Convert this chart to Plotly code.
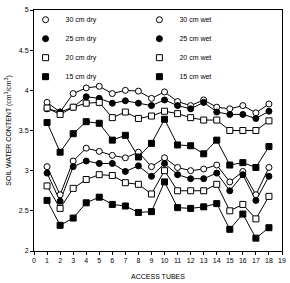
import plotly.graph_objects as go

tubes = list(range(1, 19))

wet30 = [3.85, 3.73, 3.96, 4.03, 4.05, 3.96, 4.00, 3.99, 3.90, 3.98, 3.86, 3.81, 3.88, 3.79, 3.77, 3.81, 3.72, 3.83]
wet25 = [3.77, 3.73, 3.79, 3.92, 3.90, 3.84, 3.87, 3.84, 3.81, 3.88, 3.81, 3.77, 3.85, 3.73, 3.70, 3.70, 3.65, 3.74]
wet20 = [3.78, 3.70, 3.79, 3.84, 3.85, 3.66, 3.73, 3.65, 3.68, 3.74, 3.71, 3.66, 3.63, 3.63, 3.50, 3.50, 3.50, 3.62]
wet15 = [3.60, 3.23, 3.46, 3.61, 3.59, 3.38, 3.44, 3.17, 3.34, 3.64, 3.32, 3.31, 3.21, 3.38, 3.07, 3.10, 3.04, 3.30]

dry30 = [3.05, 2.70, 3.12, 3.28, 3.24, 3.19, 3.16, 3.23, 3.05, 3.16, 3.04, 3.00, 3.02, 3.07, 2.86, 2.99, 2.70, 3.04]
dry25 = [2.97, 2.62, 3.05, 3.12, 3.09, 3.09, 2.99, 3.06, 2.93, 3.09, 2.95, 2.90, 2.90, 2.97, 2.75, 2.95, 2.63, 2.93]
dry20 = [2.81, 2.53, 2.78, 2.89, 2.95, 2.94, 2.85, 2.83, 2.71, 3.00, 2.75, 2.75, 2.75, 2.83, 2.50, 2.58, 2.40, 2.68]
dry15 = [2.63, 2.32, 2.41, 2.60, 2.67, 2.58, 2.56, 2.48, 2.49, 2.86, 2.54, 2.53, 2.55, 2.59, 2.27, 2.46, 2.16, 2.29]

x_ticks = list(range(0, 20))
y_ticks = [2, 2.5, 3, 3.5, 4, 4.5, 5]
y_labels = ["2", "2.5", "3", "3.5", "4", "4.5", "5"]

series = [
    ("30 cm dry", dry30, "circle", "white", "legend"),
    ("25 cm dry", dry25, "circle", "black", "legend"),
    ("20 cm dry", dry20, "square", "white", "legend"),
    ("15 cm dry", dry15, "square", "black", "legend"),
    ("30 cm wet", wet30, "circle", "white", "legend2"),
    ("25 cm wet", wet25, "circle", "black", "legend2"),
    ("20 cm wet", wet20, "square", "white", "legend2"),
    ("15 cm wet", wet15, "square", "black", "legend2"),
]

fig = go.Figure()
for name, vals, sym, fill, lg in series:
    fig.add_trace(go.Scatter(
        x=tubes, y=vals, mode="lines", showlegend=False,
        line=dict(color="black", width=1), hoverinfo="skip"))
for name, vals, sym, fill, lg in series:
    fig.add_trace(go.Scatter(
        x=tubes, y=vals, mode="markers", name=name, legend=lg,
        marker=dict(symbol=sym, size=6, color=fill,
                    line=dict(color="black", width=1))))

font = dict(family="Liberation Sans, Arial, sans-serif", size=7, color="black")

fig.update_layout(
    width=290, height=283,
    margin=dict(l=34, r=4, t=10, b=32),
    paper_bgcolor="white", plot_bgcolor="white",
    font=font,
    xaxis=dict(range=[0, 19], tickvals=x_ticks, ticktext=[str(t) for t in x_ticks],
               showline=True, linecolor="black", linewidth=1, mirror=True,
               ticks="outside", ticklen=3, tickcolor="black", showgrid=False, zeroline=False,
               title=dict(text="ACCESS TUBES", font=dict(size=7), standoff=10)),
    yaxis=dict(range=[2, 5], tickvals=y_ticks, ticktext=y_labels,
               showline=True, linecolor="black", linewidth=1, mirror=True,
               ticks="outside", ticklen=3, tickcolor="black", showgrid=False, zeroline=False,
               title=dict(text="SOIL WATER CONTENT (cm<sup>3</sup>/cm<sup>3</sup>)", font=dict(size=7), standoff=6)),
    legend=dict(x=-0.034, y=1.02, xanchor="left", yanchor="top", bgcolor="rgba(0,0,0,0)",
                font=dict(size=7), tracegroupgap=0, itemwidth=30),
    legend2=dict(x=0.425, y=1.02, xanchor="left", yanchor="top", bgcolor="rgba(0,0,0,0)",
                 font=dict(size=7), tracegroupgap=0, itemwidth=30),
)

fig.write_html("out.html")
